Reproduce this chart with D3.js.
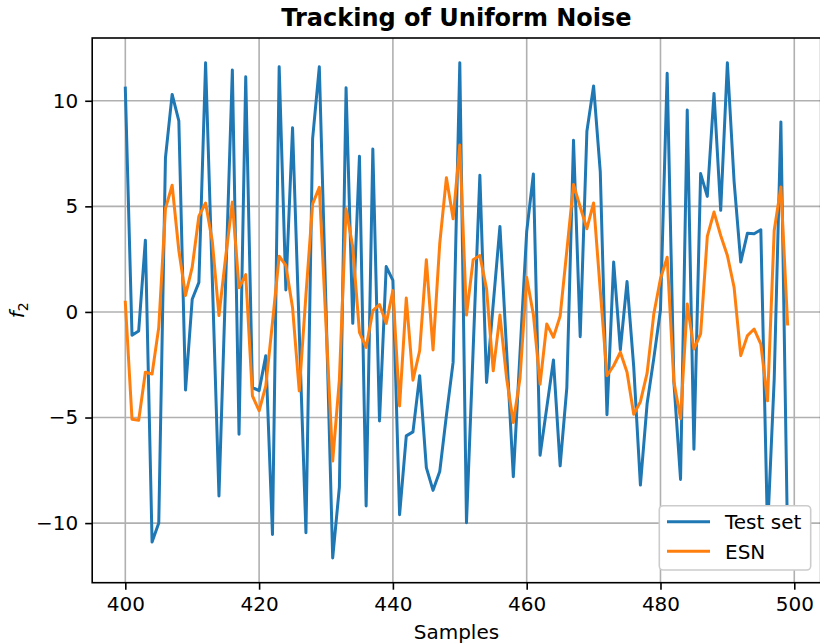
<!DOCTYPE html>
<html>
<head>
<meta charset="utf-8">
<script src="https://cdn.jsdelivr.net/npm/d3@7"></script>
<style>
  html, body { margin: 0; padding: 0; background: #ffffff; }
  svg { display: block; font-family: "DejaVu Sans", sans-serif; }
</style>
</head>
<body>
<svg id="chart" width="820" height="644"></svg>
<script>
// Sample index runs 400..499
const startSample = 400;

// Target signal (test set)
const testSet = [
  10.6, -1.1, -0.9, 3.4, -10.9, -10.0, 7.3, 10.3, 9.05, -3.7,
  0.6, 1.4, 11.8, 1.6, -8.72, 1.4, 11.46, -5.79, 11.14, -3.58,
  -3.73, -2.07, -10.54, 11.61, 1.04, 8.72, -0.9, -10.46, 8.21, 11.61,
  0.2, -11.65, -8.3, 10.62, -0.54, 7.37, -9.19, 7.72, -5.16, 2.15,
  1.49, -9.6, -5.87, -5.68, -3.02, -7.37, -8.45, -7.56, -4.9, -2.39,
  11.8, -9.98, -1.76, 6.47, -3.34, 0.38, 4.05, -1.84, -7.8, -1.96,
  3.8, 6.53, -6.79, -4.53, -2.28, -7.29, -3.58, 8.13, -1.17, 8.56,
  10.7, 6.63, -4.87, 2.36, -1.79, 1.44, -2.6, -8.2, -4.35, -2.2,
  0.1, 11.3, -3.3, -7.93, 9.56, -6.5, 6.55, 5.47, 10.35, 4.81,
  11.8, 6.2, 2.36, 3.73, 3.7, 3.89, -10.4, -3.18, 9.0, -10.9
];

// Echo state network output
const esn = [
  0.46, -5.08, -5.13, -2.86, -2.94, -0.73, 4.89, 6.0, 2.91, 0.78,
  2.12, 4.54, 5.16, 3.35, -0.17, 2.6, 5.2, 1.14, 1.77, -3.97,
  -4.68, -3.5, -0.5, 2.64, 2.2, 0.2, -3.74, 0.8, 5.12, 5.9,
  -0.6, -7.06, -3.2, 4.89, 3.07, -0.97, -1.68, 0.06, 0.35, -0.54,
  1.01, -4.45, 0.66, -3.23, -1.84, 2.47, -1.8, 3.23, 6.36, 4.41,
  7.9, -0.15, 2.47, 2.67, 1.09, -2.79, -0.15, -3.15, -5.24, -3.14,
  1.63, -0.13, -3.42, -0.57, -1.2, -0.2, 2.9, 6.03, 4.97, 3.94,
  5.16, 1.01, -3.02, -2.55, -1.91, -2.86, -4.85, -4.25, -2.9, -0.1,
  1.57, 2.59, -3.3, -5.05, 0.38, -1.76, -1.04, 3.58, 4.73, 3.62,
  2.67, 1.17, -2.07, -1.12, -0.81, -1.52, -4.21, 3.86, 5.92, -0.57
];

const xTicks = [400, 420, 440, 460, 480, 500];
const yTicks = [-10, -5, 0, 5, 10];
const seriesNames = ["Test set", "ESN"];
const seriesColors = ["#1f77b4", "#ff7f0e"];
const titleText = "Tracking of Uniform Noise";
const xLabelText = "Samples";

const samples = testSet.map((_, i) => startSample + i);

const svg = d3.select("#chart");
const W = 820, H = 644;
const plot = { left: 92.2, right: 820.7, top: 38, bottom: 582.7 };

svg.append("rect").attr("width", W).attr("height", H).attr("fill", "#ffffff");

// Axis limits with 5% padding on the data range
function padded(lo, hi) {
  const m = (hi - lo) * 0.05;
  return [lo - m, hi + m];
}
const xDom = padded(d3.min(samples), d3.max(samples));
const allY = testSet.concat(esn);
const yDom = padded(d3.min(allY), d3.max(allY));

const x = d3.scaleLinear().domain(xDom).range([plot.left, plot.right]);
const y = d3.scaleLinear().domain(yDom).range([plot.bottom, plot.top]);

svg.append("defs").append("clipPath").attr("id", "plotClip")
  .append("rect")
  .attr("x", plot.left).attr("y", plot.top)
  .attr("width", plot.right - plot.left).attr("height", plot.bottom - plot.top);

// Grid
const grid = svg.append("g").attr("stroke", "#b0b0b0").attr("stroke-width", 1.6);
xTicks.forEach(t => {
  grid.append("line")
    .attr("x1", x(t)).attr("x2", x(t))
    .attr("y1", plot.top).attr("y2", plot.bottom);
});
yTicks.forEach(t => {
  grid.append("line")
    .attr("x1", plot.left).attr("x2", plot.right)
    .attr("y1", y(t)).attr("y2", y(t));
});

// Series lines
const line = d3.line().x((d, i) => x(samples[i])).y(d => y(d));
const lines = svg.append("g").attr("clip-path", "url(#plotClip)");
[testSet, esn].forEach((s, k) => {
  lines.append("path")
    .datum(s)
    .attr("d", line)
    .attr("fill", "none")
    .attr("stroke", seriesColors[k])
    .attr("stroke-width", 3)
    .attr("stroke-linejoin", "round")
    .attr("stroke-linecap", "square");
});

// Axes
const fmt = d3.format("d");
const xAxis = svg.append("g")
  .attr("transform", `translate(0,${plot.bottom})`)
  .call(d3.axisBottom(x).tickValues(xTicks).tickFormat(fmt).tickSize(7).tickPadding(7).tickSizeOuter(0));
const yAxis = svg.append("g")
  .attr("transform", `translate(${plot.left},0)`)
  .call(d3.axisLeft(y).tickValues(yTicks).tickFormat(fmt).tickSize(7).tickPadding(7).tickSizeOuter(0));

[xAxis, yAxis].forEach(a => {
  a.select(".domain").remove();
  a.selectAll(".tick line").attr("stroke", "#000").attr("stroke-width", 1.6);
  a.selectAll(".tick text")
    .attr("fill", "#000")
    .style("font-family", "'DejaVu Sans', sans-serif")
    .style("font-size", "20px");
});

// Spines
svg.append("rect")
  .attr("x", plot.left).attr("y", plot.top)
  .attr("width", plot.right - plot.left).attr("height", plot.bottom - plot.top)
  .attr("fill", "none").attr("stroke", "#000").attr("stroke-width", 1.6);

// Title
svg.append("text")
  .attr("x", (plot.left + plot.right) / 2).attr("y", 26)
  .attr("text-anchor", "middle")
  .style("font-size", "24px").style("font-weight", "bold")
  .text(titleText);

// Axis labels
svg.append("text")
  .attr("x", (plot.left + plot.right) / 2).attr("y", 639)
  .attr("text-anchor", "middle")
  .style("font-size", "20px")
  .text(xLabelText);

const yl = svg.append("text")
  .attr("transform", `translate(24,${(plot.top + plot.bottom) / 2}) rotate(-90)`)
  .attr("text-anchor", "middle")
  .style("font-size", "20px");
yl.append("tspan").style("font-style", "italic").text("f");
yl.append("tspan").attr("dy", 4).style("font-size", "14px").text("2");

// Legend (opaque box over the lower-right corner)
const lg = svg.append("g");
lg.append("rect")
  .attr("x", 659.3).attr("y", 505.7).attr("width", 151.4).attr("height", 64.3)
  .attr("rx", 4).attr("ry", 4)
  .attr("fill", "#ffffff")
  .attr("stroke", "#cccccc").attr("stroke-width", 1.6);
seriesNames.forEach((name, k) => {
  const cy = 521.7 + k * 29.6;
  lg.append("line")
    .attr("x1", 667).attr("x2", 710).attr("y1", cy).attr("y2", cy)
    .attr("stroke", seriesColors[k]).attr("stroke-width", 3);
  lg.append("text")
    .attr("x", 725).attr("y", cy + 7.3)
    .style("font-size", "20px")
    .text(name);
});
</script>
</body>
</html>
